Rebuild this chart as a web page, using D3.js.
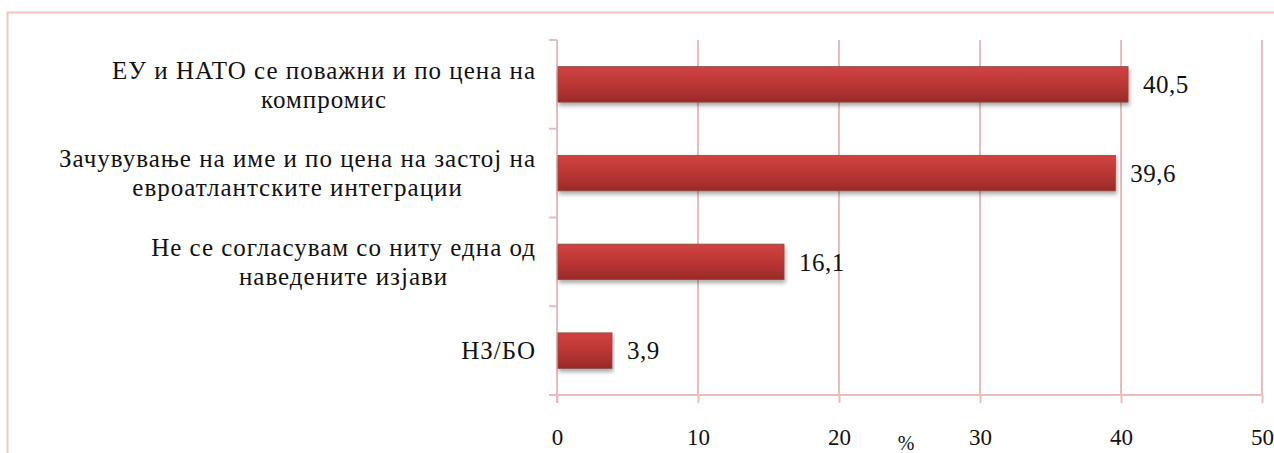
<!DOCTYPE html>
<html>
<head>
<meta charset="utf-8">
<script src="https://cdn.jsdelivr.net/npm/d3@7"></script>
<style>
  html, body { margin: 0; padding: 0; background: #fff; }
  svg { display: block; }
</style>
</head>
<body>
<svg id="chart" width="1274" height="453"></svg>
<script>
// ---- data ----
const categories = [
  ["ЕУ и НАТО се поважни и по цена на", "компромис"],
  ["Зачувување на име и по цена на застој на", "евроатлантските интеграции"],
  ["Не се согласувам со ниту една од", "наведените изјави"],
  ["НЗ/БО"]
];
const values = [40.5, 39.6, 16.1, 3.9];
const valueLabels = ["40,5", "39,6", "16,1", "3,9"];
const xTicks = [0, 10, 20, 30, 40, 50];
const axisTitle = "%";

(function () {
const FONT = "\"Liberation Serif\"";
const svg = d3.select("#chart");
const mLeft = 557, mRight = 1262, mTop = 40, mBottom = 395;
const pink = "#ebbcbc";
const styleText = sel => sel.attr("font-family", null).style("font-family", FONT).style("fill", "#111");

const x = d3.scaleLinear().domain([0, 50]).range([mLeft, mRight]);
const y = d3.scaleBand().domain(d3.range(categories.length)).range([mTop, mBottom]).paddingInner(0.6).paddingOuter(0.3);

svg.append("rect").attr("x", 7.5).attr("y", 12.5).attr("width", 1300).attr("height", 500)
  .attr("fill", "none").attr("stroke", "#f2c4c4").attr("stroke-width", 2);

const defs = svg.append("defs");
const grad = defs.append("linearGradient").attr("id", "barGrad").attr("x1", 0).attr("y1", 0).attr("x2", 0).attr("y2", 1);
grad.append("stop").attr("offset", "0%").attr("stop-color", "#d04341");
grad.append("stop").attr("offset", "50%").attr("stop-color", "#bb3634");
grad.append("stop").attr("offset", "100%").attr("stop-color", "#992a29");
const f = defs.append("filter").attr("id", "shadow").attr("x", "-5%").attr("y", "-20%").attr("width", "110%").attr("height", "160%");
f.append("feDropShadow").attr("dx", 1).attr("dy", 3).attr("stdDeviation", 2).attr("flood-color", "#000").attr("flood-opacity", 0.35);

// gridlines
svg.append("g").selectAll("line").data(xTicks.filter(d => d > 0)).join("line")
  .attr("x1", d => x(d)).attr("x2", d => x(d)).attr("y1", mTop).attr("y2", mBottom)
  .attr("stroke", pink).attr("stroke-width", 2);

// x axis
const xAxis = svg.append("g").attr("transform", `translate(0,${mBottom})`)
  .call(d3.axisBottom(x).tickValues(xTicks).tickSize(8).tickPadding(26).tickFormat(d3.format("d")));
xAxis.attr("font-family", null);
xAxis.select(".domain").attr("stroke", pink).attr("stroke-width", 2).attr("d", `M${mLeft},0H${mRight}`);
xAxis.selectAll(".tick line").attr("stroke", pink).attr("stroke-width", 2);
xAxis.selectAll(".tick text").call(styleText).style("font-size", "23px");

// y axis line and category ticks
const catBounds = d3.range(categories.length + 1).map(i => mTop + i * (mBottom - mTop) / categories.length);
svg.append("line").attr("x1", mLeft).attr("x2", mLeft).attr("y1", mTop).attr("y2", mBottom + 8)
  .attr("stroke", pink).attr("stroke-width", 2);
svg.append("g").selectAll("line").data(catBounds).join("line")
  .attr("x1", mLeft - 8).attr("x2", mLeft).attr("y1", d => d).attr("y2", d => d)
  .attr("stroke", pink).attr("stroke-width", 2);

// bars
svg.append("g").selectAll("rect").data(values).join("rect")
  .attr("x", x(0) + 1).attr("y", (d, i) => y(i))
  .attr("width", d => x(d) - x(0) - 1).attr("height", y.bandwidth())
  .attr("fill", "url(#barGrad)").attr("stroke", "#8a4a48").attr("stroke-width", 0.8)
  .attr("filter", "url(#shadow)");

// value labels
svg.append("g").selectAll("text").data(values).join("text")
  .attr("x", d => x(d) + 15).attr("y", (d, i) => y(i) + y.bandwidth() / 2)
  .attr("dy", "0.35em")
  .call(styleText).style("font-size", "25px").style("letter-spacing", "0.5px")
  .text((d, i) => valueLabels[i]);

// category labels
const labelRight = 536, lineH = 29;
categories.forEach((lines, i) => {
  const cy = y(i) + y.bandwidth() / 2;
  const g = svg.append("g");
  const texts = g.selectAll("text").data(lines).join("text")
    .attr("y", (d, j) => cy + (j - (lines.length - 1) / 2) * lineH)
    .attr("dy", "0.35em")
    .call(styleText).style("font-size", "25px").style("letter-spacing", "1px")
    .text(d => d);
  let maxW = 0;
  texts.each(function () { maxW = Math.max(maxW, this.getComputedTextLength()); });
  texts.attr("x", labelRight - maxW / 2).attr("text-anchor", "middle");
});

// axis title
svg.append("text").attr("x", 906).attr("y", 443).attr("dy", "0.35em").attr("text-anchor", "middle")
  .call(styleText).style("font-size", "20px").text(axisTitle);
})();
</script>
</body>
</html>
